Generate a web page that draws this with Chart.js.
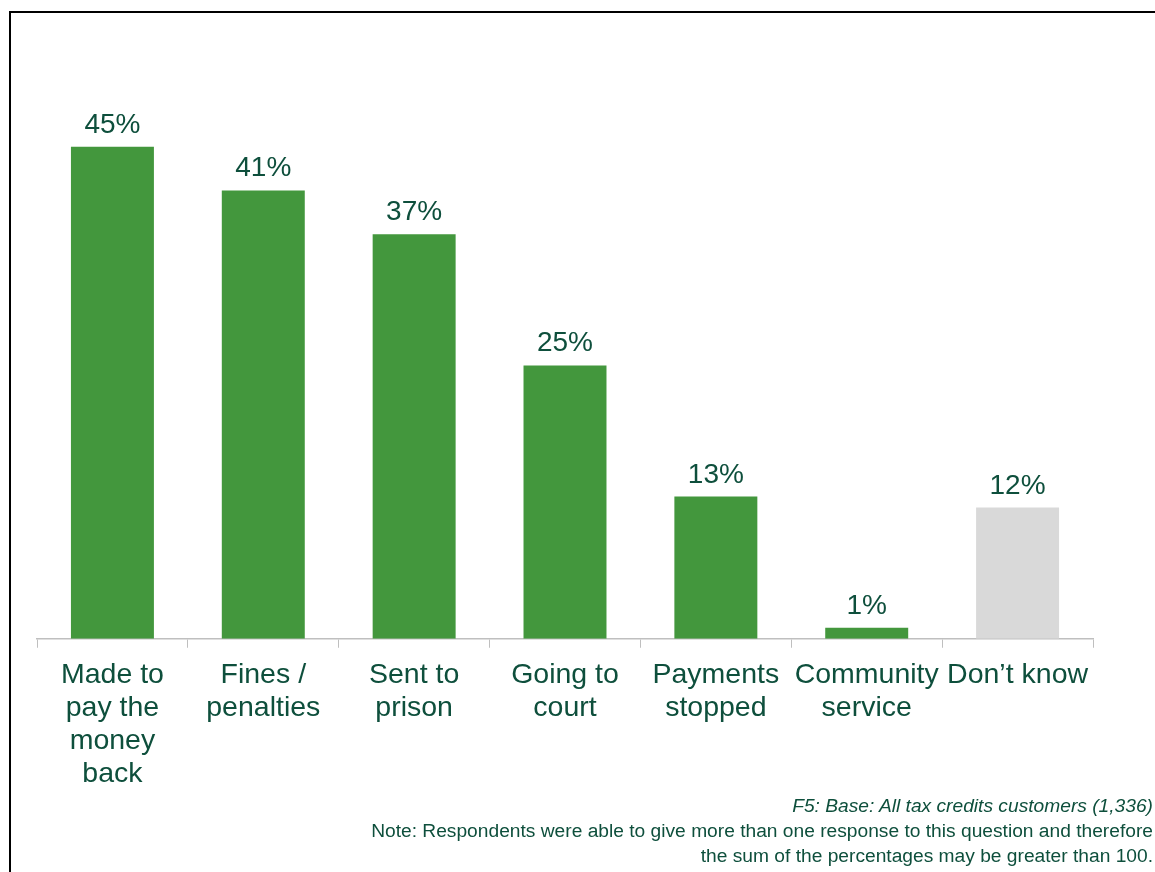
<!DOCTYPE html>
<html lang="en">
<head>
<meta charset="UTF-8" />
<title>Perceived consequences</title>
<script src="https://cdn.jsdelivr.net/npm/chart.js"></script>
<style>
  body { margin: 0; background: #fff; font-family: "Liberation Sans", Arial, sans-serif; }
  #frame { position: absolute; left: 9px; top: 11px; width: 1200px; height: 900px; border-left: 2px solid #000; border-top: 2px solid #000; }
  #wrap { position: absolute; left: 0; top: 0; width: 1155px; height: 802px; }
  #notes { position: absolute; right: 2px; top: 793px; text-align: right; color: #0E4F3C; font-size: 19.2px; line-height: 25px; }
  #notes .base { font-style: italic; }
</style>
</head>
<body>
<div id="frame"></div>
<div id="wrap"><canvas id="chart"></canvas></div>
<div id="notes">
  <div class="base">F5: Base: All tax credits customers (1,336)</div>
  <div>Note: Respondents were able to give more than one response to this question and therefore</div>
  <div>the sum of the percentages may be greater than 100.</div>
</div>
<script>
  const categories = [
    ['Made to', 'pay the', 'money', 'back'],
    ['Fines /', 'penalties'],
    ['Sent to', 'prison'],
    ['Going to', 'court'],
    ['Payments', 'stopped'],
    ['Community', 'service'],
    ['Don\u2019t know']
  ];
  const values = [45, 41, 37, 25, 13, 1, 12];
  const barColours = ['#43973D', '#43973D', '#43973D', '#43973D', '#43973D', '#43973D', '#D9D9D9'];

  const textColour = '#0E4F3C';

  // value labels above each bar
  const valueLabels = {
    id: 'valueLabels',
    afterDatasetsDraw(chart) {
      const ctx = chart.ctx;
      const meta = chart.getDatasetMeta(0);
      ctx.save();
      ctx.font = '28px "Liberation Sans", Arial, sans-serif';
      ctx.fillStyle = textColour;
      ctx.textAlign = 'center';
      ctx.textBaseline = 'alphabetic';
      meta.data.forEach((bar, i) => {
        ctx.fillText(values[i] + '%', bar.x, bar.y - 14);
      });
      ctx.restore();
    }
  };

  new Chart(document.getElementById('chart'), {
    type: 'bar',
    data: {
      labels: categories,
      datasets: [{
        data: values,
        backgroundColor: barColours,
        barPercentage: 0.55,
        categoryPercentage: 1
      }]
    },
    options: {
      responsive: true,
      maintainAspectRatio: false,
      animation: false,
      layout: { padding: { left: 37, right: 62, top: 92, bottom: 0 } },
      plugins: { legend: { display: false }, tooltip: { enabled: false } },
      scales: {
        x: {
          grid: { drawOnChartArea: false, tickLength: 9, color: '#BFBFBF' },
          border: { color: '#BFBFBF', width: 1.5 },
          ticks: {
            color: textColour,
            font: { size: 28.5, family: '"Liberation Sans", Arial, sans-serif', lineHeight: 1.16 },
            maxRotation: 0,
            autoSkip: false,
            padding: 11
          }
        },
        y: {
          display: false,
          min: 0,
          max: 50
        }
      }
    },
    plugins: [valueLabels]
  });
</script>
</body>
</html>
